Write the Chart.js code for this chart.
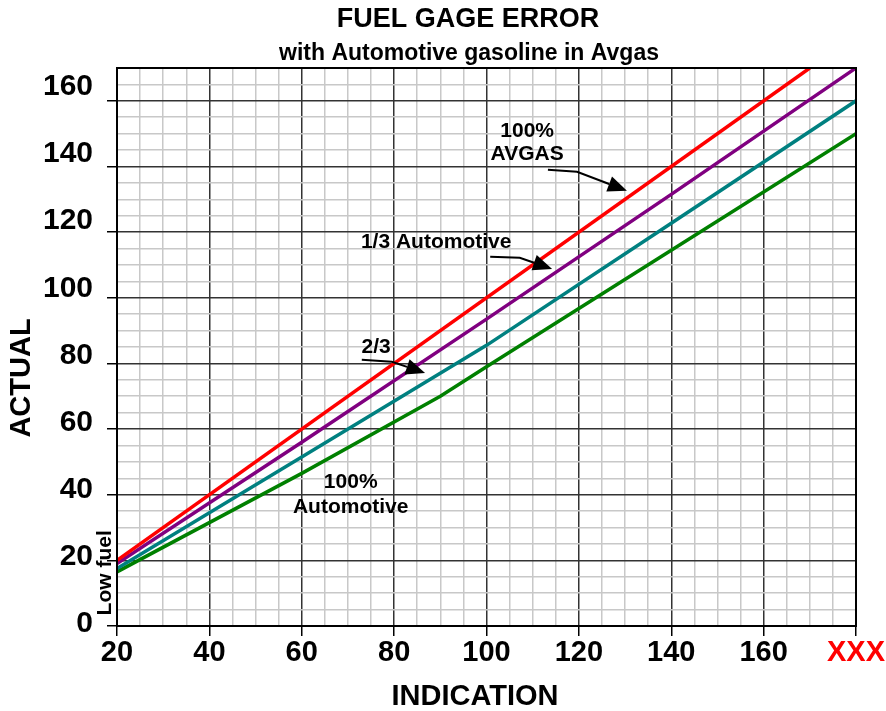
<!DOCTYPE html>
<html>
<head>
<meta charset="utf-8">
<title>Fuel gage error</title>
<script src="https://cdn.jsdelivr.net/npm/chart.js@4/dist/chart.umd.min.js"></script>
<style>
  html, body { margin: 0; padding: 0; background: #ffffff; }
  canvas { display: block; }
</style>
</head>
<body>
<canvas id="chart" width="886" height="711"></canvas>
<script>
// Gauge indication vs. actual fuel for each fuel blend
const avgasIndication     = [20, 170];
const avgasActual         = [20, 170];
const oneThirdIndication  = [20, 60, 100, 140, 180];
const oneThirdActual      = [19, 56, 93.5, 131.5, 170];
const twoThirdsIndication = [20, 60, 100, 140, 180];
const twoThirdsActual     = [17.5, 51.5, 85.5, 122.7, 160];
const autoIndication      = [20, 60, 90, 100, 140, 180];
const autoActual          = [16.5, 46.5, 70, 79, 114.5, 150];

// Axis labels
const xTickValues = [20, 40, 60, 80, 100, 120, 140, 160, 180];
const xTickLabels = ['20', '40', '60', '80', '100', '120', '140', '160', 'XXX'];
const yTickValues = [0, 20, 40, 60, 80, 100, 120, 140, 160];
const yTickLabels = ['0', '20', '40', '60', '80', '100', '120', '140', '160'];

const FONT = "'Liberation Sans', Arial, Helvetica, sans-serif";

function points(xs, ys) {
  return xs.map((x, i) => ({ x: x, y: ys[i] }));
}

// Callouts placed in chart (indication, actual) units
const callouts = [
  { lines: ['100%', 'AVGAS'], x: 108.8, y: 150.6, gap: 23 },
  { lines: ['1/3 Automotive'], x: 89.1, y: 116.8, gap: 0 },
  { lines: ['2/3'], x: 76.1, y: 84.8, gap: 0 },
  { lines: ['100%', 'Automotive'], x: 70.6, y: 43.9, gap: 25 }
];
const arrows = [
  [[113.3, 139.0], [119.6, 138.4], [130.4, 132.6]],
  [[100.8, 112.5], [107.2, 112.2], [114.2, 108.8]],
  [[73.0, 81.1], [79.5, 80.5], [86.7, 77.1]]
];

const isMajor = v => Math.abs(v % 20) < 1e-6;

const decorations = {
  id: 'decorations',
  afterDraw(chart) {
    const ctx = chart.ctx;
    const xs = chart.scales.x, ys = chart.scales.y;
    const area = chart.chartArea;

    // plot frame
    ctx.save();
    ctx.strokeStyle = '#000000';
    ctx.lineWidth = 2;
    ctx.strokeRect(area.left, area.top, area.right - area.left, area.bottom - area.top);
    ctx.restore();

    ctx.save();
    ctx.fillStyle = '#000000';
    ctx.textAlign = 'center';
    ctx.textBaseline = 'middle';

    // titles
    ctx.font = 'bold 27px ' + FONT;
    ctx.fillText('FUEL GAGE ERROR', 468, 20);
    ctx.font = 'bold 23px ' + FONT;
    ctx.fillText('with Automotive gasoline in Avgas', 469, 54);

    // axis titles
    ctx.font = 'bold 29px ' + FONT;
    ctx.fillText('INDICATION', 475, 697);
    ctx.save();
    ctx.translate(22, 378);
    ctx.rotate(-Math.PI / 2);
    ctx.fillText('ACTUAL', 0, 0);
    ctx.restore();

    // low fuel marker
    ctx.save();
    ctx.font = 'bold 21px ' + FONT;
    ctx.translate(xs.getPixelForValue(17.4), ys.getPixelForValue(16.2));
    ctx.rotate(-Math.PI / 2);
    ctx.fillText('Low fuel', 0, 0);
    ctx.restore();

    // callout text
    ctx.font = 'bold 21px ' + FONT;
    callouts.forEach(c => {
      const px = xs.getPixelForValue(c.x);
      const py = ys.getPixelForValue(c.y);
      c.lines.forEach((t, i) => ctx.fillText(t, px, py + i * c.gap));
    });

    // callout arrows
    ctx.strokeStyle = '#000000';
    ctx.lineWidth = 2;
    arrows.forEach(a => {
      const p = a.map(q => [xs.getPixelForValue(q[0]), ys.getPixelForValue(q[1])]);
      const tip = p[p.length - 1], prev = p[p.length - 2];
      const ang = Math.atan2(tip[1] - prev[1], tip[0] - prev[0]);
      const len = 19, half = 8;
      const base = [tip[0] - len * Math.cos(ang), tip[1] - len * Math.sin(ang)];
      ctx.beginPath();
      ctx.moveTo(p[0][0], p[0][1]);
      for (let i = 1; i < p.length - 1; i++) ctx.lineTo(p[i][0], p[i][1]);
      ctx.lineTo(base[0], base[1]);
      ctx.stroke();
      ctx.beginPath();
      ctx.moveTo(tip[0], tip[1]);
      ctx.lineTo(base[0] + half * Math.sin(ang), base[1] - half * Math.cos(ang));
      ctx.lineTo(base[0] - half * Math.sin(ang), base[1] + half * Math.cos(ang));
      ctx.closePath();
      ctx.fill();
    });
    ctx.restore();
  }
};

const gridColor = c => isMajor(c.tick.value) ? '#333333' : '#c8c8c8';
const gridWidth = 1.5;
const tickColor = c => isMajor(c.tick.value) ? '#000000' : 'rgba(0,0,0,0)';

new Chart(document.getElementById('chart'), {
  type: 'line',
  data: {
    datasets: [
      { label: '100% AVGAS', data: points(avgasIndication, avgasActual), borderColor: '#ff0000', xAxisID: 'x', yAxisID: 'y' },
      { label: '1/3 Automotive', data: points(oneThirdIndication, oneThirdActual), borderColor: '#800080', xAxisID: 'x', yAxisID: 'y' },
      { label: '2/3 Automotive', data: points(twoThirdsIndication, twoThirdsActual), borderColor: '#008080', xAxisID: 'x', yAxisID: 'y' },
      { label: '100% Automotive', data: points(autoIndication, autoActual), borderColor: '#008000', xAxisID: 'x', yAxisID: 'y' }
    ]
  },
  options: {
    responsive: false,
    animation: false,
    layout: { padding: { top: 68, right: 30, left: 0, bottom: 0 } },
    plugins: { legend: { display: false }, tooltip: { enabled: false }, title: { display: false } },
    elements: {
      point: { radius: 0, hoverRadius: 0 },
      line: { borderWidth: 3.5, tension: 0, fill: false }
    },
    scales: {
      x: {
        type: 'linear', position: 'bottom', min: 20, max: 180,
        afterFit(s) { s.height = 85; },
        ticks: {
          stepSize: 5, autoSkip: false, maxRotation: 0, padding: 0,
          font: { family: FONT, size: 29, weight: 'bold' },
          color: c => (c.tick && c.tick.value === 180) ? '#ff0000' : '#000000',
          callback: v => {
            const i = xTickValues.indexOf(v);
            return i >= 0 ? xTickLabels[i] : '';
          }
        },
        grid: { color: gridColor, lineWidth: gridWidth, tickColor: tickColor, tickLength: 10, tickWidth: 1.5 },
        border: { display: false }
      },
      y: {
        type: 'linear', position: 'left', weight: 0, min: 0, max: 170,
        afterFit(s) { s.width = 12; },
        ticks: { stepSize: 5, display: false },
        grid: { color: gridColor, lineWidth: gridWidth, tickColor: tickColor, tickLength: 10, tickWidth: 1.5 },
        border: { display: false }
      },
      yLabels: {
        type: 'linear', position: 'left', weight: 1, min: -0.6, max: 165.6,
        afterFit(s) { s.width = 105; },
        ticks: {
          stepSize: 20, includeBounds: false, padding: 12,
          font: { family: FONT, size: 30, weight: 'bold' },
          color: '#000000',
          callback: v => {
            const i = yTickValues.findIndex(t => Math.abs(t - v) < 1e-6);
            return i >= 0 ? yTickLabels[i] : '';
          }
        },
        grid: { display: false, drawTicks: false },
        border: { display: false }
      }
    }
  },
  plugins: [decorations]
});
</script>
</body>
</html>
